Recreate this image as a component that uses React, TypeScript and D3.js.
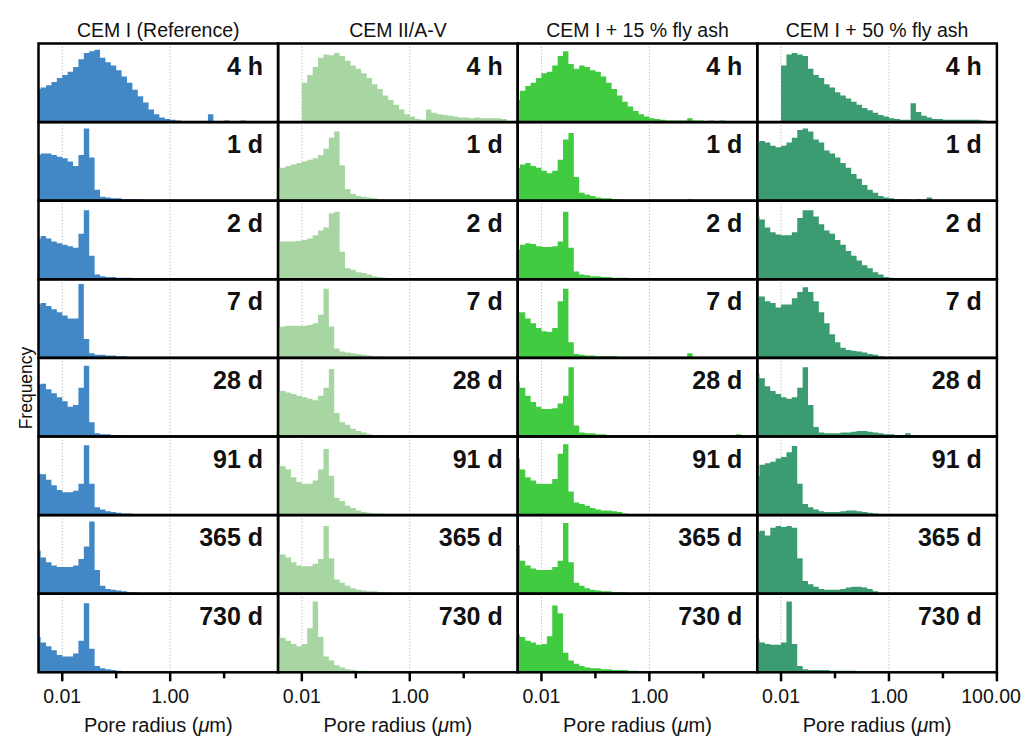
import React from "react";
import * as d3 from "d3";

// ---------- data ----------
const MIXES = ["CEM I (Reference)", "CEM II/A-V", "CEM I + 15 % fly ash", "CEM I + 50 % fly ash"];
const AGES = ["4 h", "1 d", "2 d", "7 d", "28 d", "91 d", "365 d", "730 d"];
const COLORS = ["#4288c6", "#a7d6a2", "#40cb40", "#3b9c71"];
// histogram bins in log10(radius, µm): start and width
const BIN_START = -2.5;
const BIN_WIDTH = 0.1;
const X_MIN_LOG = -2.44;
const X_MAX_LOG = 2;
const TICK_VALUES = [0.01, 0.1, 1, 10, 100];
const TICK_LABELS = ["0.01", "", "1.00", "", "100.00"];

// relative frequency (% of panel height), one list per age
const cemI = [
  [42, 44, 47, 51, 56, 60, 64, 70, 80, 88, 90, 92, 82, 76, 72, 66, 58, 50, 41, 33, 25, 16, 10, 6, 4, 3, 2, 1, 1, 1, 1, 1, 10, 1, 1, 2, 1, 1, 2, 1, 1, 1, 1],
  [58, 60, 60, 58, 56, 54, 50, 44, 58, 92, 55, 14, 5, 4, 3, 3, 2, 2, 2, 2, 1],
  [52, 55, 52, 48, 46, 44, 42, 40, 58, 88, 30, 6, 4, 3, 3, 2, 2, 2, 1, 1],
  [68, 70, 66, 62, 58, 54, 50, 50, 94, 24, 6, 4, 4, 3, 3, 2, 2, 1, 0, 0, 0, 0, 0, 0, 0, 0, 0, 0, 0, 0, 0, 1],
  [66, 67, 60, 55, 50, 45, 38, 40, 62, 90, 18, 4, 3, 3, 2, 2, 1],
  [53, 52, 45, 38, 32, 29, 29, 31, 40, 89, 40, 10, 7, 5, 4, 3, 2, 2, 1, 1],
  [55, 46, 40, 36, 34, 34, 34, 36, 44, 60, 92, 30, 10, 6, 5, 4, 3, 2, 2, 1, 1],
  [45, 38, 33, 28, 22, 20, 20, 24, 40, 88, 30, 8, 5, 4, 3, 2, 1],
];
const cemIIAV = [
  [0, 0, 0, 0, 0, 50, 60, 70, 82, 86, 85, 88, 84, 78, 72, 68, 62, 56, 48, 42, 34, 28, 22, 16, 10, 7, 4, 3, 16, 12, 10, 9, 8, 7, 6, 6, 5, 6, 5, 5, 5, 5, 4],
  [42, 42, 44, 46, 48, 50, 52, 54, 58, 66, 80, 88, 45, 15, 9, 6, 5, 4, 3, 2, 2, 1, 1],
  [50, 48, 48, 48, 49, 50, 52, 56, 62, 66, 84, 86, 35, 14, 12, 9, 8, 6, 4, 3, 2, 1, 1],
  [38, 40, 41, 41, 41, 41, 42, 44, 55, 88, 40, 12, 8, 7, 6, 5, 4, 3, 2, 2, 1],
  [58, 58, 56, 54, 52, 50, 48, 46, 52, 62, 86, 30, 18, 15, 10, 7, 5, 3, 2, 2, 1, 1],
  [64, 62, 58, 48, 42, 40, 40, 44, 58, 84, 50, 22, 18, 12, 9, 6, 4, 3, 2, 2, 1],
  [52, 50, 46, 40, 36, 35, 35, 38, 44, 86, 45, 18, 14, 10, 7, 5, 4, 3, 3, 2, 2, 1, 1],
  [48, 44, 40, 36, 33, 36, 56, 90, 45, 20, 15, 9, 6, 4, 3, 2, 2, 1, 1],
];
const flyAsh15 = [
  [28, 40, 46, 50, 56, 62, 64, 72, 84, 90, 74, 68, 72, 70, 66, 64, 58, 50, 42, 34, 26, 20, 14, 10, 7, 5, 4, 3, 2, 2, 2, 2, 5, 2, 2, 1, 2, 1, 2, 1, 1, 1, 1],
  [42, 46, 48, 44, 42, 38, 35, 38, 52, 78, 86, 30, 10, 8, 6, 4, 3, 3, 2, 2, 1, 1, 1, 1, 1, 0, 0, 0, 0, 0, 0, 0, 2],
  [38, 44, 46, 45, 42, 41, 41, 42, 48, 86, 40, 10, 6, 5, 4, 4, 3, 3, 2, 2, 2, 1, 1, 1],
  [58, 58, 50, 44, 38, 34, 33, 38, 72, 88, 20, 5, 4, 3, 3, 2, 2, 2, 2, 1, 1, 1, 1, 1, 0, 0, 0, 0, 0, 0, 0, 0, 6],
  [70, 62, 52, 44, 38, 35, 35, 36, 42, 52, 88, 14, 5, 4, 4, 3, 3, 2, 2, 2, 2, 2, 1, 1, 1, 1, 1, 1, 1, 1, 1, 1, 1, 1, 1, 1, 1, 1, 1, 1, 2, 3, 1],
  [72, 58, 48, 44, 40, 40, 40, 46, 78, 90, 30, 16, 14, 12, 9, 7, 6, 6, 5, 4, 2, 1, 1],
  [62, 42, 36, 32, 30, 30, 30, 34, 42, 90, 40, 14, 10, 7, 5, 4, 3, 3, 2, 2, 2, 1, 1],
  [48, 45, 40, 38, 35, 36, 46, 85, 75, 25, 15, 11, 8, 6, 5, 5, 4, 4, 3, 3, 3, 2, 2, 1, 1],
];
const flyAsh50 = [
  [0, 0, 0, 0, 0, 72, 86, 88, 86, 84, 68, 60, 56, 48, 44, 38, 34, 30, 26, 22, 18, 15, 12, 9, 7, 5, 4, 3, 3, 24, 13, 8, 6, 4, 4, 3, 3, 3, 3, 3, 3, 3, 2],
  [74, 76, 74, 70, 68, 70, 74, 80, 90, 92, 88, 78, 74, 64, 60, 55, 48, 42, 34, 28, 20, 14, 10, 6, 4, 3, 2, 2, 2, 1, 2, 1, 4, 1, 1, 1, 1, 1, 1, 1, 1],
  [80, 76, 66, 60, 57, 56, 56, 60, 78, 88, 88, 80, 70, 62, 58, 50, 44, 36, 30, 24, 18, 14, 9, 6, 3, 2, 1, 1],
  [78, 78, 72, 70, 64, 68, 68, 76, 84, 90, 84, 72, 58, 44, 30, 20, 13, 10, 9, 8, 7, 5, 4, 2, 1],
  [80, 74, 64, 58, 54, 50, 48, 50, 62, 88, 40, 12, 5, 4, 4, 4, 5, 5, 6, 7, 7, 6, 5, 4, 3, 3, 2, 2, 4, 1, 1],
  [50, 64, 66, 68, 72, 74, 80, 88, 40, 14, 10, 7, 5, 4, 4, 4, 5, 6, 6, 5, 4, 3, 2, 1, 1],
  [78, 80, 74, 84, 86, 85, 86, 84, 45, 16, 12, 9, 6, 5, 5, 5, 6, 8, 9, 9, 8, 6, 3, 1],
  [42, 38, 36, 35, 35, 38, 90, 36, 8, 4, 3, 3, 3, 3, 2, 2, 2, 2, 2, 1],
];
const SERIES = [cemI, cemIIAV, flyAsh15, flyAsh50];

// ---------- layout ----------
const W = 1024;
const H = 746;
const X0 = 38.5;
const PW = 239.6;
const TOP = 43.5;
const RH = 78.6;
const FONT = "'Liberation Sans', Arial, Helvetica, sans-serif";

export default function App() {
  const x = d3
    .scaleLog()
    .domain([Math.pow(10, X_MIN_LOG), Math.pow(10, X_MAX_LOG)])
    .range([0, PW])
    .clamp(true);
  const y = d3.scaleLinear().domain([0, 100]).range([RH, 0]);
  const area = d3
    .area<[number, number]>()
    .x((d) => d[0])
    .y0(RH)
    .y1((d) => y(d[1]))
    .curve(d3.curveStepAfter);

  const histPath = (vals: number[]) => {
    const pts: [number, number][] = vals.map((v, k) => [x(Math.pow(10, BIN_START + k * BIN_WIDTH)), v]);
    pts.push([x(Math.pow(10, BIN_START + vals.length * BIN_WIDTH)), 0]);
    return area(pts) || "";
  };

  const bottom = TOP + RH * AGES.length;

  return (
    <svg
      width={W}
      height={H}
      style={{ position: "fixed", left: 0, top: 0, background: "#fff" }}
      fontFamily={FONT}
    >
      <rect width={W} height={H} fill="#fff" />
      {MIXES.map((mix, c) => {
        const px = X0 + c * PW;
        return (
          <g key={mix}>
            <text x={px + PW / 2} y={37} textAnchor="middle" fontSize={19.5} fill="#111">
              {mix}
            </text>
            {AGES.map((age, r) => {
              const py = TOP + r * RH;
              return (
                <g key={age} transform={`translate(${px},${py})`}>
                  {[0.01, 1].map((g) => (
                    <line
                      key={g}
                      x1={x(g)}
                      x2={x(g)}
                      y1={0}
                      y2={RH}
                      stroke="#b8b8b8"
                      strokeWidth={1}
                      strokeDasharray="1.2,2"
                    />
                  ))}
                  <path d={histPath(SERIES[c][r])} fill={COLORS[c]} />
                  <text
                    x={PW - 15}
                    y={31}
                    textAnchor="end"
                    fontSize={25}
                    fontWeight="bold"
                    fill="#111"
                  >
                    {age}
                  </text>
                  <rect x={0} y={0} width={PW} height={RH} fill="none" stroke="#000" strokeWidth={2.5} />
                </g>
              );
            })}
            <g transform={`translate(${px},${bottom})`}>
              {TICK_VALUES.map((t, i) => {
                if (t === 100 && c < MIXES.length - 1) return null;
                const major = TICK_LABELS[i] !== "";
                const isLast = t === 100;
                return (
                  <g key={t}>
                    <line
                      x1={x(t)}
                      x2={x(t)}
                      y1={0}
                      y2={major ? 9 : 6}
                      stroke="#000"
                      strokeWidth={2.5}
                    />
                    {major && (
                      <text
                        x={isLast ? x(t) + 24 : x(t)}
                        y={31}
                        textAnchor={isLast ? "end" : "middle"}
                        fontSize={19.5}
                        fill="#111"
                      >
                        {TICK_LABELS[i]}
                      </text>
                    )}
                  </g>
                );
              })}
              <text x={PW / 2} y={60} textAnchor="middle" fontSize={20} fill="#111">
                Pore radius (<tspan fontStyle="italic">μ</tspan>m)
              </text>
            </g>
          </g>
        );
      })}
      <text
        transform={`translate(32,388) rotate(-90)`}
        textAnchor="middle"
        fontSize={17.5}
        fill="#111"
      >
        Frequency
      </text>
    </svg>
  );
}
